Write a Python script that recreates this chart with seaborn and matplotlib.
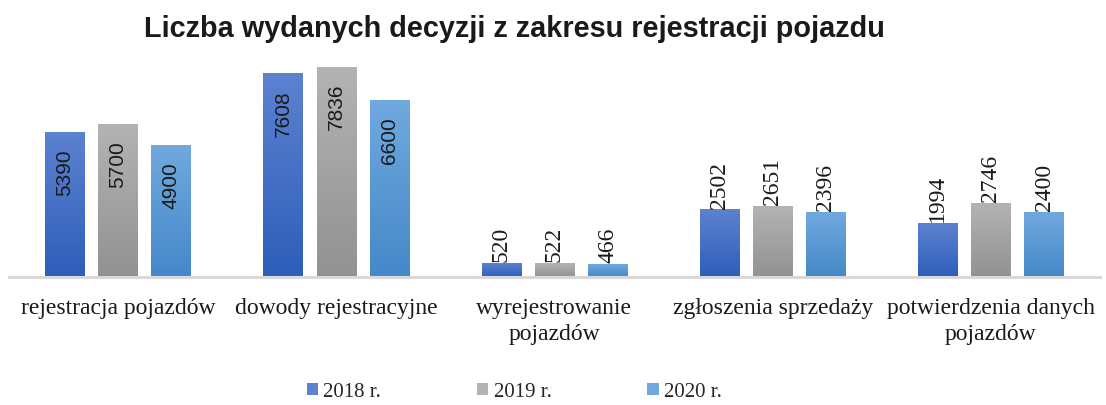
import numpy as np
import pandas as pd
import seaborn as sns
import matplotlib.pyplot as plt
from matplotlib.colors import LinearSegmentedColormap
from matplotlib.patches import Patch

# values
categories = ["rejestracja pojazdów", "dowody rejestracyjne", "wyrejestrowanie\npojazdów",
              "zgłoszenia sprzedaży", "potwierdzenia danych\npojazdów"]
years = ["2018 r.", "2019 r.", "2020 r."]
v2018 = [5390, 7608, 520, 2502, 1994]
v2019 = [5700, 7836, 522, 2651, 2746]
v2020 = [4900, 6600, 466, 2396, 2400]

# (top colour, bottom colour) of each series gradient
grad = {
    "2018 r.": ("#5c82d0", "#2e5eba"),
    "2019 r.": ("#b3b3b3", "#929292"),
    "2020 r.": ("#70a9de", "#4588c9"),
}

df = pd.DataFrame({
    "kategoria": categories * 3,
    "rok": [y for y in years for _ in categories],
    "liczba": v2018 + v2019 + v2020,
})

sns.set_style("white")
plt.rcParams["font.family"] = ["Liberation Serif", "DejaVu Serif"]

fig = plt.figure(figsize=(11.06, 4.05), dpi=100)
ax = fig.add_axes([0.008, 0.316, 0.9866, 0.529])

sns.barplot(data=df, x="kategoria", y="liczba", hue="rok", order=categories,
            hue_order=years, width=0.73, gap=0.26, palette=[grad[y][1] for y in years],
            legend=False, ax=ax)

# replace flat bars by vertical gradients, add value labels
for cont, yr in zip(ax.containers, years):
    cmap = LinearSegmentedColormap.from_list(yr, [grad[yr][1], grad[yr][0]])
    for patch in cont.patches:
        x0, w, h = patch.get_x(), patch.get_width(), patch.get_height()
        g = np.linspace(0, 1, 100).reshape(-1, 1)
        ax.imshow(g, extent=[x0, x0 + w, 0, h], origin="lower", aspect="auto",
                  cmap=cmap, zorder=2)
        patch.set_visible(False)
        xc = x0 + w / 2
        if h > 4000:
            ax.annotate(f"{int(h)}", (xc, h), xytext=(0, -12), textcoords="offset points",
                        rotation=90, ha="center", va="top", fontsize=15,
                        family="Liberation Sans", color="#1a1a1a", zorder=3)
        else:
            ax.annotate(f"{int(h)}", (xc, h), xytext=(0, 1), textcoords="offset points",
                        rotation=90, ha="center", va="bottom", fontsize=17,
                        color="#1a1a1a", zorder=3)

ax.set_xlim(-0.5, 4.5)
ax.set_ylim(0, 8000)
ax.set_xlabel("")
ax.set_ylabel("")
ax.set_yticks([])
ax.tick_params(axis="x", length=0, pad=15, labelsize=17, colors="#1a1a1a")
for lab in ax.get_xticklabels():
    lab.set_linespacing(1.35)
for s in ["top", "right", "left"]:
    ax.spines[s].set_visible(False)
ax.spines["bottom"].set_color("#d9d9d9")
ax.spines["bottom"].set_linewidth(2.2)

fig.text(0.4655, 1 - 37 / 405, "Liczba wydanych decyzji z zakresu rejestracji pojazdu",
         ha="center", va="baseline", fontsize=20.8, fontweight="bold",
         family="Liberation Sans", color="#1a1a1a")

handles = [Patch(facecolor=grad[y][0], edgecolor="none") for y in years]
fig.legend(handles, years, loc="center", bbox_to_anchor=(0.465, 0.032), ncol=3,
           frameon=False, fontsize=15, handlelength=0.55, handleheight=0.55,
           handletextpad=0.25, columnspacing=4.6)

fig.savefig("out.png", dpi=100)
